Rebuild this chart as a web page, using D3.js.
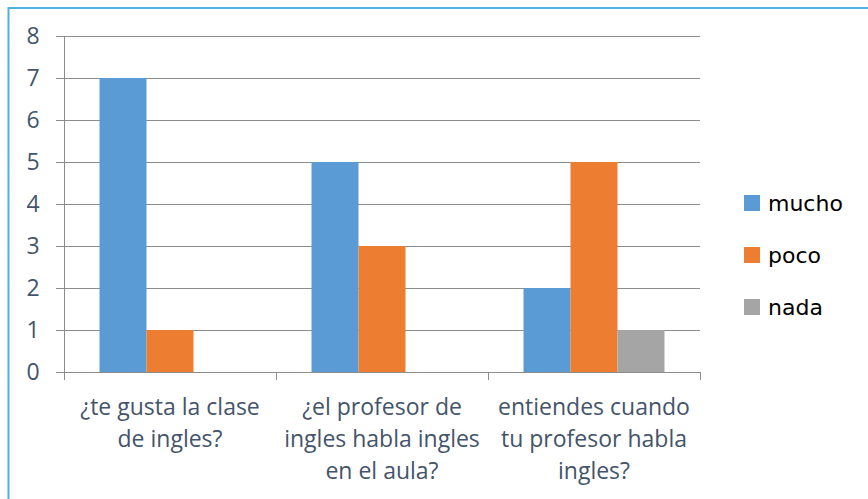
<!DOCTYPE html>
<html>
<head>
<meta charset="utf-8">
<script src="https://cdn.jsdelivr.net/npm/d3@7"></script>
<style>
  body { margin: 0; background: #fff; }
  svg { display: block; }
</style>
</head>
<body>
<script>
// data
var categories = [
  ["¿te gusta la clase", "de ingles?"],
  ["¿el profesor de", "ingles habla ingles", "en el aula?"],
  ["entiendes cuando", "tu profesor habla", "ingles?"]
];
var seriesNames = ["mucho", "poco", "nada"];
var mucho = [7, 5, 2];
var poco = [1, 3, 5];
var nada = [0, 0, 1];
var yTicks = [0, 1, 2, 3, 4, 5, 6, 7, 8];
var colors = ["#5b9bd5", "#ed7d31", "#a5a5a5"];

var width = 868, height = 499;
var margin = {top: 36, right: 168, bottom: 127, left: 64};
var w = width - margin.left - margin.right,
    h = height - margin.top - margin.bottom;

var svg = d3.select("body").append("svg")
    .attr("width", width)
    .attr("height", height);

// outer frame
svg.append("path")
    .attr("d", "M868,8 L8.5,8 L8.5,499")
    .attr("fill", "none")
    .attr("stroke", "#4ab3e0")
    .attr("stroke-width", 2);

var g = svg.append("g")
    .attr("transform", "translate(" + margin.left + "," + margin.top + ")");

var x0 = d3.scaleBand()
    .domain(d3.range(categories.length))
    .range([0, w])
    .paddingInner(0.335)
    .paddingOuter(0.1675);

var x1 = d3.scaleBand()
    .domain(seriesNames)
    .range([0, x0.bandwidth()]);

var y = d3.scaleLinear()
    .domain([0, 8])
    .range([h, 0]);

// gridlines
g.selectAll(".grid")
    .data(yTicks)
  .enter().append("line")
    .attr("x1", -8)
    .attr("x2", w)
    .attr("y1", function(d) { return Math.round(y(d)) + 0.5; })
    .attr("y2", function(d) { return Math.round(y(d)) + 0.5; })
    .attr("stroke", "#8c8c8c")
    .attr("stroke-width", 1);

// bars
var table = categories.map(function(c, i) {
  return [mucho[i], poco[i], nada[i]];
});

var groups = g.selectAll(".grp")
    .data(table)
  .enter().append("g")
    .attr("transform", function(d, i) { return "translate(" + x0(i) + ",0)"; });

groups.selectAll("rect")
    .data(function(d) { return d.map(function(v, j) { return {k: seriesNames[j], v: v, j: j}; }); })
  .enter().append("rect")
    .attr("x", function(d) { return x1(d.k); })
    .attr("width", x1.bandwidth())
    .attr("y", function(d) { return y(d.v); })
    .attr("height", function(d) { return h - y(d.v); })
    .attr("fill", function(d) { return colors[d.j]; });

// y axis line
g.append("line")
    .attr("x1", 0.5).attr("x2", 0.5)
    .attr("y1", 0).attr("y2", h)
    .attr("stroke", "#8c8c8c");

// y labels
g.selectAll(".ylab")
    .data(yTicks)
  .enter().append("text")
    .attr("x", -31)
    .attr("y", function(d) { return y(d); })
    .attr("dy", "0.36em")
    .attr("text-anchor", "middle")
    .style("font-family", "'Open Sans', sans-serif")
    .style("font-size", "23px")
    .style("fill", "#44546a")
    .text(function(d) { return d; });

// x axis ticks between categories
var xb = d3.range(categories.length + 1).map(function(i) { return i * w / categories.length; });
g.selectAll(".xtick")
    .data(xb)
  .enter().append("line")
    .attr("x1", function(d) { return Math.round(d) + 0.5; })
    .attr("x2", function(d) { return Math.round(d) + 0.5; })
    .attr("y1", h)
    .attr("y2", h + 8)
    .attr("stroke", "#8c8c8c");

// category labels
var labs = g.selectAll(".xlab")
    .data(categories)
  .enter().append("text")
    .attr("text-anchor", "middle")
    .style("font-family", "'Open Sans', sans-serif")
    .style("font-size", "23px")
    .style("fill", "#44546a")
    .attr("transform", function(d, i) { return "translate(" + (x0(i) + x0.bandwidth() / 2) + "," + (h + 43) + ")"; });

labs.selectAll("tspan")
    .data(function(d) { return d; })
  .enter().append("tspan")
    .attr("x", 0)
    .attr("y", function(d, i) { return i * 32; })
    .text(function(d) { return d; });

// legend
var legend = svg.append("g")
    .attr("transform", "translate(744,203)");

var items = legend.selectAll(".item")
    .data(seriesNames)
  .enter().append("g")
    .attr("transform", function(d, i) { return "translate(0," + (i * 52) + ")"; });

items.append("rect")
    .attr("x", 0)
    .attr("y", -8)
    .attr("width", 16)
    .attr("height", 16)
    .attr("fill", function(d, i) { return colors[i]; });

items.append("text")
    .attr("x", 24)
    .attr("dy", "0.35em")
    .style("font-family", "'DejaVu Sans', sans-serif")
    .style("font-size", "22px")
    .style("fill", "#000")
    .text(function(d) { return d; });
</script>
</body>
</html>
